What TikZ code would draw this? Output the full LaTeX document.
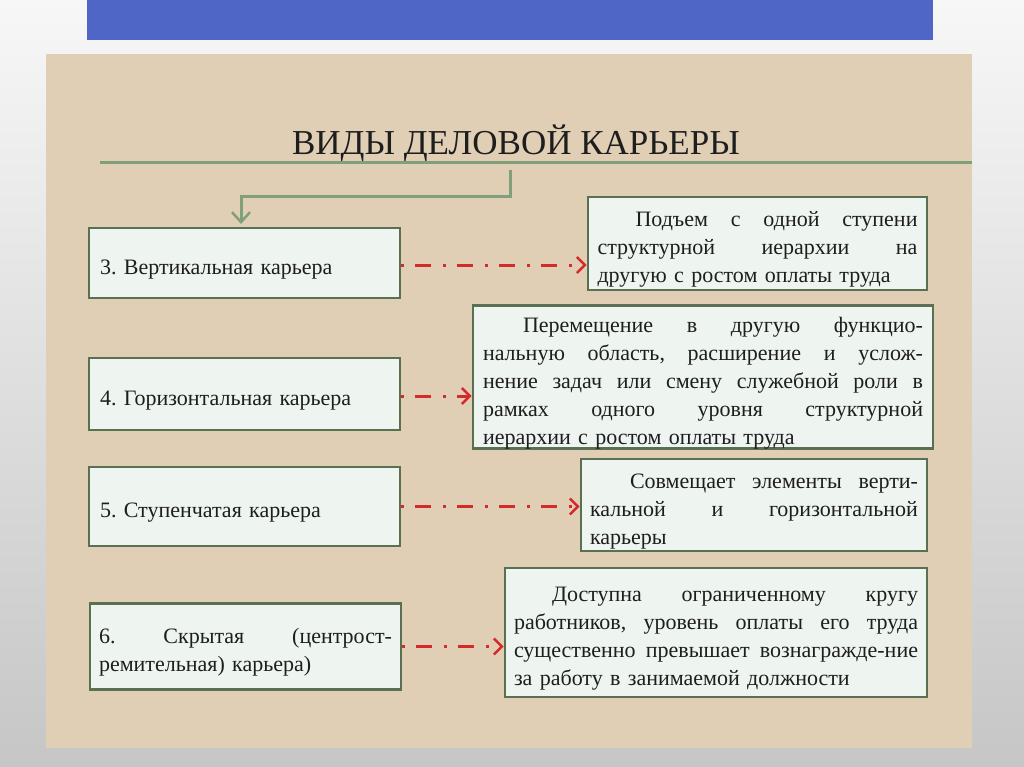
\documentclass[tikz,border=0pt]{standalone}
\usepackage{fontspec}
\setmainfont{Liberation Serif}
\usetikzlibrary{arrows.meta}
\definecolor{bgtop}{HTML}{F7F7F7}
\definecolor{bgbot}{HTML}{C6C6C6}
\definecolor{barblue}{HTML}{4F66C6}
\definecolor{beige}{HTML}{E0CFB5}
\definecolor{boxfill}{HTML}{EEF4EF}
\definecolor{boxline}{HTML}{5A7052}
\definecolor{gline}{HTML}{7FA07A}
\definecolor{conred}{HTML}{D42A2A}
\definecolor{ink}{HTML}{1E1E1E}
\newcommand\jline[2]{\leavevmode\hbox to #1{\spaceskip=0.2em plus 1fil\xspaceskip=0.2em plus 1fil\relax #2}}
\frenchspacing
\begin{document}
\begin{tikzpicture}[x=1pt,y=-1pt,
  box/.style={draw=boxline, line width=2.8pt, fill=boxfill, inner sep=0pt,
    font=\fontsize{22}{28}\selectfont\frenchspacing, text=ink, align=left,
    execute at begin node={\rule{0pt}{27pt}}},
  conn/.style={draw=conred, line width=3pt,
    dash pattern=on 3pt off 11pt on 16pt off 12pt,
    -{Straight Barb[length=8pt,width=16pt,line width=2.5pt]}},
  gconn/.style={draw=gline, line width=3pt,
    -{Straight Barb[length=10pt,width=18pt,line width=2.5pt]}}
]
\useasboundingbox (0,0) rectangle (1024,767);
\shade[top color=bgtop, bottom color=bgbot] (0,0) rectangle (1024,767);
\fill[barblue] (87,0) rectangle (933,40);
\fill[beige] (46,54) rectangle (972,748);

\node[font=\fontsize{35}{40}\selectfont, text=ink] (title) at (516,143) {ВИДЫ ДЕЛОВОЙ КАРЬЕРЫ};
\draw[gline, line width=3pt] (100,163) -- (972,163);
\coordinate (gs) at (510,170);
\coordinate (gt) at (241,224);
\draw[gconn] (gs) -- ++(0,27) -| (gt);

% left boxes
\node[box, minimum width=311pt, minimum height=70pt, text width=289pt] (l3) at (244.5,263) {3. Вертикальная карьера};
\node[box, minimum width=311pt, minimum height=72pt, text width=289pt] (l4) at (244.5,394) {4. Горизонтальная карьера};
\node[box, minimum width=311pt, minimum height=79pt, text width=289pt] (l5) at (244.5,506.5) {5. Ступенчатая карьера};
\node[box, minimum width=311pt, minimum height=86pt, text width=293pt] (l6) at (245.5,646.5)
  {\jline{293pt}{6. Скрытая (центрост-}\\ремительная) карьера)};

% right boxes
\node[box, minimum width=339pt, minimum height=93pt, text width=320pt] (r3) at (757.5,243.5)
  {\jline{320pt}{\hspace*{38pt}Подъем с одной ступени}\\
   \jline{320pt}{структурной иерархии на}\\
   другую с ростом оплаты труда};
\node[box, minimum width=460pt, minimum height=140pt, text width=440pt] (r4) at (703,377)
  {\jline{440pt}{\hspace*{40pt}Перемещение в другую функцио-}\\
   \jline{440pt}{нальную область, расширение и услож-}\\
   \jline{440pt}{нение задач или смену служебной роли в}\\
   \jline{440pt}{рамках одного уровня структурной}\\
   иерархии с ростом оплаты труда};
\node[box, minimum width=346pt, minimum height=92pt, text width=328pt] (r5) at (754,505)
  {\jline{328pt}{\hspace*{40pt}Совмещает элементы верти-}\\
   \jline{328pt}{кальной и горизонтальной}\\
   карьеры};
\node[box, minimum width=422pt, minimum height=129pt, text width=404pt] (r6) at (716,632.5)
  {\jline{404pt}{\hspace*{38pt}Доступна ограниченному кругу}\\
   \jline{404pt}{работников, уровень оплаты его труда}\\
   \jline{404pt}{существенно превышает вознагражде-ние}\\
   за работу в занимаемой должности};

% connectors
\draw[conn] ([yshift=-2pt]l3.east) -- ([yshift=-2pt]l3.east -| r3.west);
\draw[conn] ([yshift=-2pt]l4.east) -- ([yshift=-2pt]l4.east -| r4.west);
\draw[conn] (l5.east) -- (l5.east -| r5.west);
\draw[conn] (l6.east) -- (l6.east -| r6.west);
\end{tikzpicture}
\end{document}
